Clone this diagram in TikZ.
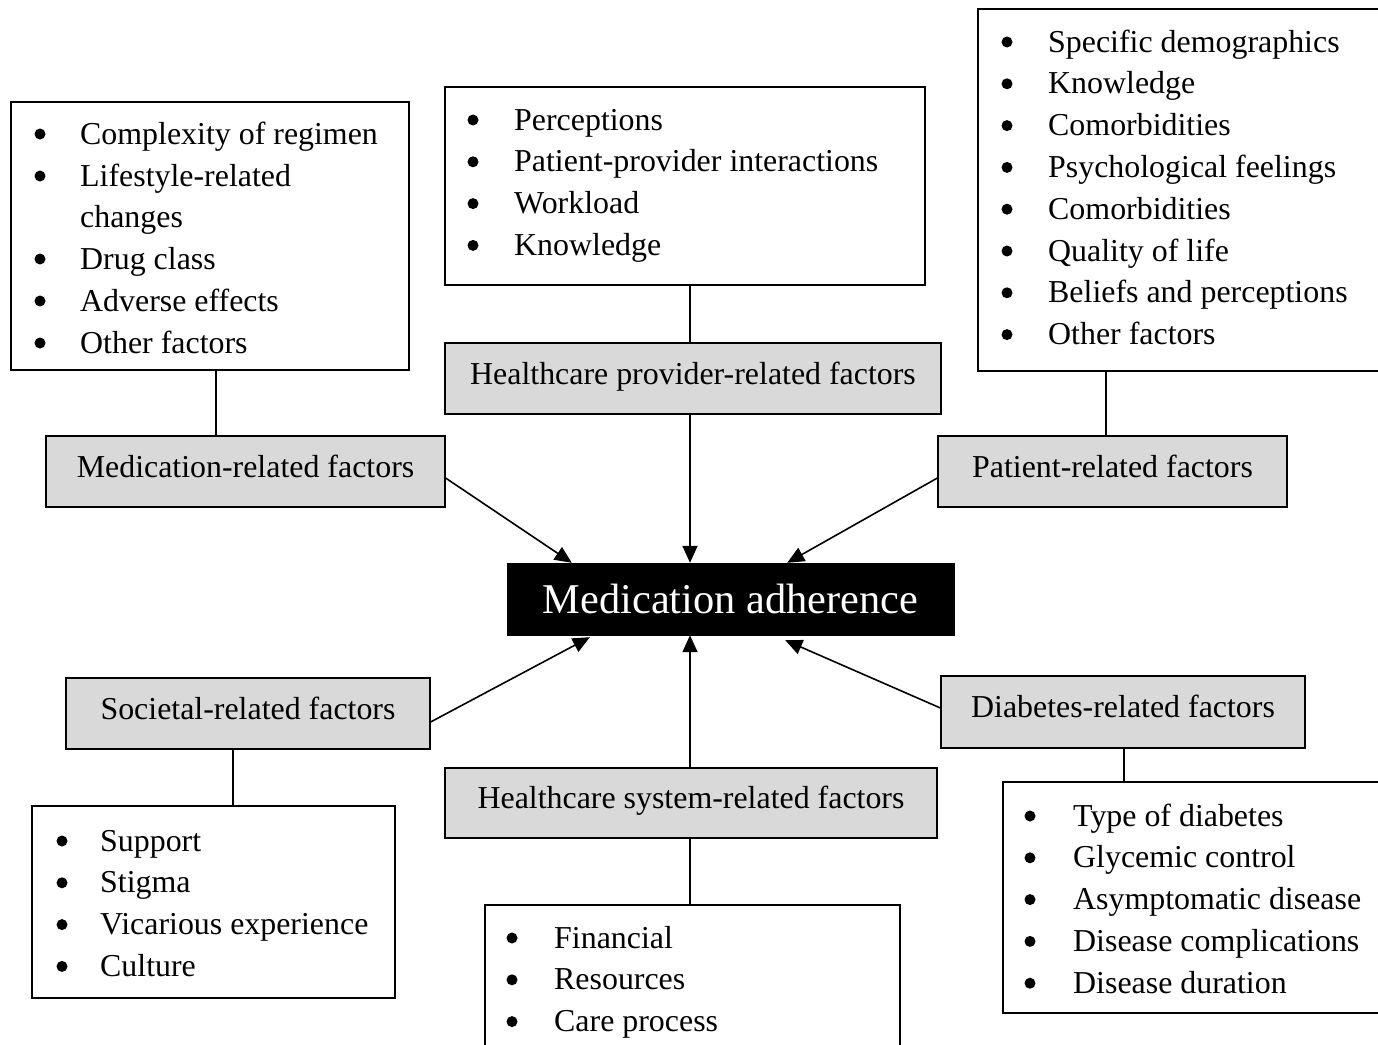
\documentclass[tikz,border=0pt]{standalone}
\usepackage{fontspec}
\setmainfont{Liberation Serif}
\usetikzlibrary{arrows.meta,calc}
\definecolor{boxgray}{HTML}{D9D9D9}
\tikzset{
  listbox/.style={draw=black,line width=1.6pt,inner sep=0pt,fill=white},
  factorbox/.style={draw=black,line width=1.2pt,fill=boxgray,inner sep=0pt,
    font=\fontsize{31.9}{38}\selectfont,text height=22pt,text depth=11pt},
  centerbox/.style={draw=black,fill=black,text=white,inner sep=0pt,
    font=\fontsize{42.4}{50}\selectfont},
  item/.style={anchor=base west,inner sep=0pt,font=\fontsize{31.9}{42}\selectfont},
  bul/.style={circle,fill=black,inner sep=0pt,minimum size=11pt},
  conn/.style={line width=1.6pt},
  arr/.style={line width=1.6pt,-{Triangle[length=17pt,width=15pt]}}
}
\newcommand\bulletlist[5]{% prefix, bullet x, text x, first baseline, items
  \foreach \t [count=\i from 0] in {#5} {
    \node[bul] (#1b\i) at (#2,#4+41.8*\i-10) {};
    \node[item] (#1t\i) at (#3,#4+41.8*\i) {\t};
  }}
\begin{document}
\begin{tikzpicture}[x=1pt,y=-1pt]
\useasboundingbox (0,0) rectangle (1378,1044);
\clip (0,0) rectangle (1378,1044);
% list boxes
\node[listbox,minimum width=398,minimum height=268] (ml) at (210,236) {};
\node[listbox,minimum width=480,minimum height=198] (pl) at (685,186) {};
\node[listbox,minimum width=430,minimum height=362] (patl) at (1193,190) {};
\node[listbox,minimum width=363,minimum height=192] (sl) at (213.5,902) {};
\node[listbox,minimum width=415,minimum height=165] (hsl) at (692.5,987.5) {};
\node[listbox,minimum width=417,minimum height=231] (dl) at (1211.5,897.5) {};
% factor boxes
\node[factorbox,minimum width=399,minimum height=71] (mf) at (245.5,471.5) {Medication-related factors};
\node[factorbox,minimum width=496,minimum height=71] (pf) at (693,378.5) {Healthcare provider-related factors};
\node[factorbox,minimum width=349,minimum height=71] (patf) at (1112.5,471.5) {Patient-related factors};
\node[factorbox,minimum width=364,minimum height=71] (sf) at (248,713.5) {Societal-related factors};
\node[factorbox,minimum width=492,minimum height=70] (hsf) at (691,803) {Healthcare system-related factors};
\node[factorbox,minimum width=364,minimum height=72] (df) at (1123,712) {Diabetes-related factors};
% center
\node[centerbox,minimum width=447,minimum height=72] (ma) at (730.5,599) {Medication adherence};
% lists
\node[bul] (mlb0) at (40,134) {};
\node[item] (mlt0) at (80,144) {Complexity of regimen};
\node[bul] (mlb1) at (40,176) {};
\node[item] (mlt1) at (80,186) {Lifestyle-related};
\node[item] (mlt1b) at (80,227) {changes};
\node[bul] (mlb2) at (40,259) {};
\node[item] (mlt2) at (80,269) {Drug class};
\node[bul] (mlb3) at (40,301) {};
\node[item] (mlt3) at (80,311) {Adverse effects};
\node[bul] (mlb4) at (40,343) {};
\node[item] (mlt4) at (80,353) {Other factors};
\bulletlist{pl}{473}{514}{130}{Perceptions,Patient-provider interactions,Workload,Knowledge}
\bulletlist{patl}{1007}{1048}{52}{Specific demographics,Knowledge,Comorbidities,Psychological feelings,Comorbidities,Quality of life,Beliefs and perceptions,Other factors}
\bulletlist{sl}{62}{100}{851}{Support,Stigma,Vicarious experience,Culture}
\bulletlist{hsl}{512}{554}{948}{Financial,Resources,Care process}
\bulletlist{dl}{1030}{1073}{826}{Type of diabetes,Glycemic control,Asymptomatic disease,Disease complications,Disease duration}
% connectors
\coordinate (c1) at (216,0);
\coordinate (c2) at (690,0);
\coordinate (c3) at (1106,0);
\coordinate (c4) at (233,0);
\coordinate (c5) at (1124,0);
\draw[conn] (ml.south -| c1) -- (mf.north -| c1);
\draw[conn] (pl.south -| c2) -- (pf.north -| c2);
\draw[conn] (patl.south -| c3) -- (patf.north -| c3);
\draw[conn] (sf.south -| c4) -- (sl.north -| c4);
\draw[conn] (hsf.south -| c2) -- (hsl.north -| c2);
\draw[conn] (df.south -| c5) -- (dl.north -| c5);
% arrows
\draw[arr] ($(mf.east)+(0,6.5)$) -- ($(ma.north west)+(65,0)$);
\draw[arr] (pf.south -| c2) -- (ma.north -| c2);
\draw[arr] ($(patf.west)+(0,6.5)$) -- ($(ma.north east)+(-167,0)$);
\draw[arr] ($(sf.east)+(0,8.5)$) -- ($(ma.south west)+(83,2)$);
\draw[arr] (hsf.north -| c2) -- (ma.south -| c2);
\draw[arr] ($(df.west)+(0,-4)$) -- ($(ma.south east)+(-169,5)$);
\end{tikzpicture}
\end{document}
